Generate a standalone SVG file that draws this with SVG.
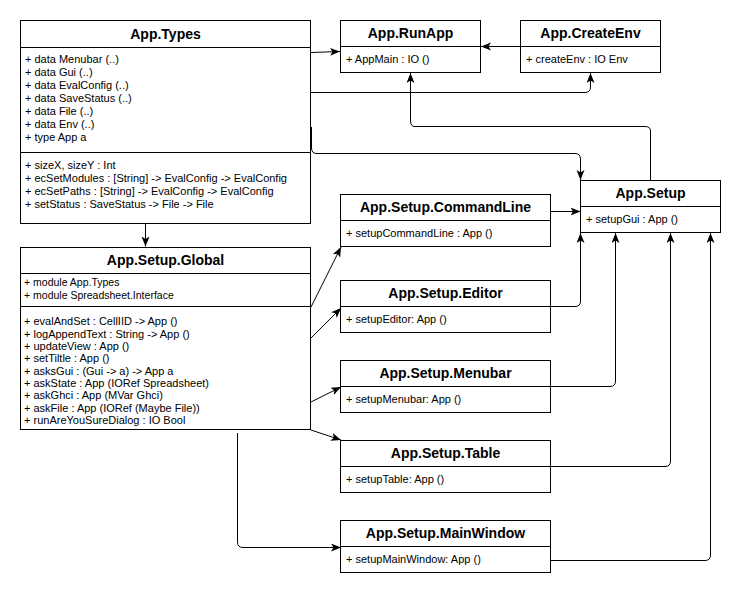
<svg xmlns="http://www.w3.org/2000/svg" width="741" height="596" viewBox="0 0 741 596">
<style>
.box{fill:#fff;stroke:#000;stroke-width:1}
.ln{stroke:#000;stroke-width:1;fill:none}
.t{font-family:"Liberation Sans",Arial,sans-serif;font-size:14px;font-weight:bold;text-anchor:middle;fill:#000}
.a{font-family:"Liberation Sans",Arial,sans-serif;font-size:11px;fill:#000}
.m{font-family:"Liberation Sans",Arial,sans-serif;font-size:10.5px;fill:#000}
.s{font-family:"Liberation Sans",Arial,sans-serif;font-size:11px;fill:#000}
.c{stroke:#000;stroke-width:1;fill:none;marker-end:url(#arr)}
</style>
<defs>
<marker id="arr" markerUnits="userSpaceOnUse" markerWidth="11" markerHeight="9" refX="10" refY="4" orient="auto">
<path d="M0,0 L10,4 L0,8 L2.5,4 Z" fill="#000"/>
</marker>
</defs>
<rect width="741" height="596" fill="#fff"/>
<g id="connectors">
<path class="c" d="M311,52.5 L340,51.5"/>
<path class="c" d="M520,46.5 L481,46.5"/>
<path class="c" d="M311,92.5 L585,92.5 Q590.5,92.5 590.5,87 L590.5,73"/>
<path class="c" d="M650.5,180 L650.5,131 Q650.5,126.5 645,126.5 L415,126.5 Q410.5,126.5 410.5,121 L410.5,73"/>
<path class="c" d="M311.5,127 L311.5,148 Q311.5,153.5 317,153.5 L575,153.5 Q580.5,153.5 580.5,159 L580.5,180"/>
<path class="c" d="M145.5,224 L145.5,246.5"/>
<path class="c" d="M550,211.5 L580.5,211.5"/>
<path class="c" d="M550,306.5 L575,306.5 Q580.5,306.5 580.5,301 L580.5,233"/>
<path class="c" d="M550,386.5 L610,386.5 Q615.5,386.5 615.5,381 L615.5,233"/>
<path class="c" d="M550,466.5 L665,466.5 Q670.5,466.5 670.5,461 L670.5,233"/>
<path class="c" d="M550,560.5 L705,560.5 Q710.5,560.5 710.5,555 L710.5,233"/>
<path class="c" d="M311,307 L341,247"/>
<path class="c" d="M311,338 L341,308"/>
<path class="c" d="M311,402 L341,387"/>
<path class="c" d="M311,430 L341,440"/>
<path class="c" d="M237.5,433 L237.5,542 Q237.5,547.5 243,547.5 L341,547.5"/>
</g>
<g id="AppTypes">
<rect class="box" x="20.5" y="20.5" width="290" height="203"/>
<line class="ln" x1="20.5" y1="47.5" x2="310.5" y2="47.5"/>
<line class="ln" x1="20.5" y1="152.5" x2="310.5" y2="152.5"/>
<text class="t" x="165.5" y="39">App.Types</text>
<text class="a" x="25" y="63">+ data Menubar (..)</text>
<text class="a" x="25" y="76">+ data Gui (..)</text>
<text class="a" x="25" y="89">+ data EvalConfig (..)</text>
<text class="a" x="25" y="102">+ data SaveStatus (..)</text>
<text class="a" x="25" y="115">+ data File (..)</text>
<text class="a" x="25" y="128">+ data Env (..)</text>
<text class="a" x="25" y="141">+ type App a</text>
<text class="a" x="25" y="169">+ sizeX, sizeY : Int</text>
<text class="a" x="25" y="182">+ ecSetModules : [String] -&gt; EvalConfig -&gt; EvalConfig</text>
<text class="a" x="25" y="195">+ ecSetPaths : [String] -&gt; EvalConfig -&gt; EvalConfig</text>
<text class="a" x="25" y="208">+ setStatus : SaveStatus -&gt; File -&gt; File</text>
</g>
<g id="AppSetupGlobal">
<rect class="box" x="20.5" y="247.5" width="290" height="182"/>
<line class="ln" x1="20.5" y1="273.5" x2="310.5" y2="273.5"/>
<line class="ln" x1="20.5" y1="306.5" x2="310.5" y2="306.5"/>
<text class="t" x="165.5" y="265">App.Setup.Global</text>
<text class="m" x="24" y="285.5">+ module App.Types</text>
<text class="m" x="24" y="298.5">+ module Spreadsheet.Interface</text>
<text class="a" x="24" y="325">+ evalAndSet : CellIID -&gt; App ()</text>
<text class="a" x="24" y="337.5">+ logAppendText : String -&gt; App ()</text>
<text class="a" x="24" y="349.5">+ updateView : App ()</text>
<text class="a" x="24" y="362">+ setTiltle : App ()</text>
<text class="a" x="24" y="374.5">+ asksGui : (Gui -&gt; a) -&gt; App a</text>
<text class="a" x="24" y="387">+ askState : App (IORef Spreadsheet)</text>
<text class="a" x="24" y="399">+ askGhci : App (MVar Ghci)</text>
<text class="a" x="24" y="411.5">+ askFile : App (IORef (Maybe File))</text>
<text class="a" x="24" y="424">+ runAreYouSureDialog : IO Bool</text>
</g>
<g id="AppRunApp">
<rect class="box" x="340.5" y="20.5" width="140" height="52"/>
<line class="ln" x1="340.5" y1="46.5" x2="480.5" y2="46.5"/>
<text class="t" x="410.5" y="38">App.RunApp</text>
<text class="s" x="346" y="63">+ AppMain : IO ()</text>
</g>
<g id="AppCreateEnv">
<rect class="box" x="520.5" y="20.5" width="140" height="52"/>
<line class="ln" x1="520.5" y1="46.5" x2="660.5" y2="46.5"/>
<text class="t" x="590.5" y="38">App.CreateEnv</text>
<text class="s" x="526" y="63">+ createEnv : IO Env</text>
</g>
<g id="AppSetup">
<rect class="box" x="580.5" y="180.5" width="140" height="52"/>
<line class="ln" x1="580.5" y1="206.5" x2="720.5" y2="206.5"/>
<text class="t" x="650.5" y="198">App.Setup</text>
<text class="s" x="586" y="223">+ setupGui : App ()</text>
</g>
<g id="AppSetupCommandLine">
<rect class="box" x="340.5" y="194.5" width="210" height="52"/>
<line class="ln" x1="340.5" y1="220.5" x2="550.5" y2="220.5"/>
<text class="t" x="445.5" y="212">App.Setup.CommandLine</text>
<text class="s" x="346" y="237">+ setupCommandLine : App ()</text>
</g>
<g id="AppSetupEditor">
<rect class="box" x="340.5" y="280.5" width="210" height="52"/>
<line class="ln" x1="340.5" y1="306.5" x2="550.5" y2="306.5"/>
<text class="t" x="445.5" y="298">App.Setup.Editor</text>
<text class="s" x="346" y="323">+ setupEditor: App ()</text>
</g>
<g id="AppSetupMenubar">
<rect class="box" x="340.5" y="360.5" width="210" height="52"/>
<line class="ln" x1="340.5" y1="386.5" x2="550.5" y2="386.5"/>
<text class="t" x="445.5" y="378">App.Setup.Menubar</text>
<text class="s" x="346" y="403">+ setupMenubar: App ()</text>
</g>
<g id="AppSetupTable">
<rect class="box" x="340.5" y="440.5" width="210" height="52"/>
<line class="ln" x1="340.5" y1="466.5" x2="550.5" y2="466.5"/>
<text class="t" x="445.5" y="458">App.Setup.Table</text>
<text class="s" x="346" y="483">+ setupTable: App ()</text>
</g>
<g id="AppSetupMainWindow">
<rect class="box" x="340.5" y="520.5" width="210" height="52"/>
<line class="ln" x1="340.5" y1="546.5" x2="550.5" y2="546.5"/>
<text class="t" x="445.5" y="538">App.Setup.MainWindow</text>
<text class="s" x="346" y="563">+ setupMainWindow: App ()</text>
</g>
</svg>
